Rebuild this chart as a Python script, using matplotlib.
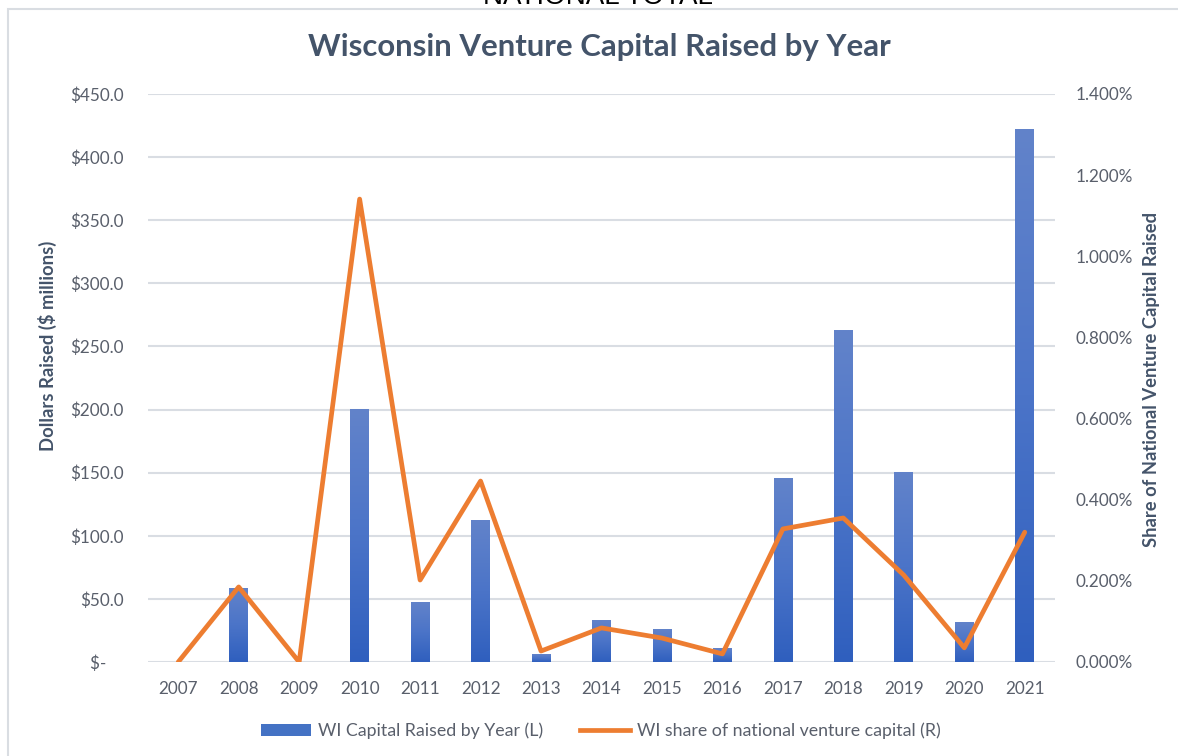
import matplotlib
matplotlib.use("Agg")
import matplotlib.pyplot as plt
import numpy as np
from matplotlib.patches import Rectangle
from matplotlib.lines import Line2D
from matplotlib.ticker import FuncFormatter, MultipleLocator
from matplotlib.colors import LinearSegmentedColormap

years = ["2007", "2008", "2009", "2010", "2011", "2012", "2013", "2014",
         "2015", "2016", "2017", "2018", "2019", "2020", "2021"]
capital_raised = [0, 58, 0, 200, 47.5, 112.5, 6.3, 32.5, 25.4, 11, 145, 263, 150, 31, 422]
share_pct = [0.0, 0.185, 0.0, 1.141, 0.202, 0.446, 0.027, 0.084, 0.059, 0.020,
             0.328, 0.355, 0.214, 0.035, 0.320]

title = "Wisconsin Venture Capital Raised by Year"
left_label = "Dollars Raised ($ millions)"
right_label = "Share of National Venture Capital Raised"
bar_legend = "WI Capital Raised by Year (L)"
line_legend = "WI share of national venture capital (R)"

plt.rcParams['font.family'] = ['Lato', 'DejaVu Sans']

W, H = 1178, 756
fig = plt.figure(figsize=(W / 100, H / 100), dpi=100)

def fx(px):
    return px / W

def fy(py):
    return 1 - py / H

# chart border
fig.patches.append(Rectangle((fx(8), fy(1000)), fx(1200), fy(8.5) - fy(1000),
                             transform=fig.transFigure, fill=False,
                             edgecolor='#D9DDE2', linewidth=1.5))
fig.text(fx(598), fy(4), "NATIONAL TOTAL", ha='center', va='baseline',
         fontsize=20, color='#000000', family=['Liberation Sans'])

ax_l, ax_r, ax_t, ax_b = 148, 1055, 94, 662
ax1 = fig.add_axes([fx(ax_l), fy(ax_b), fx(ax_r - ax_l), fy(ax_t) - fy(ax_b)])
ax2 = ax1.twinx()

x = np.arange(len(years))
bw = 0.31
bars = ax1.bar(x, capital_raised, width=bw, color='#4472C4', zorder=2)
grad = np.linspace(0, 1, 256).reshape(-1, 1)
cmap = LinearSegmentedColormap.from_list('g', ['#2F5FBE', '#4B74C8', '#6283CA'])
for b in bars:
    h = b.get_height()
    if h <= 0:
        continue
    x0 = b.get_x()
    ax1.imshow(grad, extent=(x0, x0 + b.get_width(), 0, h), origin='lower',
               aspect='auto', cmap=cmap, zorder=3)
    b.set_alpha(0)

ax1.set_xlim(-0.5, len(years) - 0.5)
ax1.set_ylim(0, 450)
ax1.yaxis.set_major_locator(MultipleLocator(50))
ax1.yaxis.set_major_formatter(FuncFormatter(lambda v, p: "$-    " if abs(v) < 1e-9 else f"${v:.1f}"))
ax1.grid(axis='y', color='#D9DDE3', linewidth=1.5, zorder=0)
ax1.set_axisbelow(True)
ax1.set_xticks(x)
ax1.set_xticklabels(years)

ax2.plot(x, share_pct, color='#ED7D31', linewidth=3.4, solid_joinstyle='round',
         solid_capstyle='round', zorder=5)
ax2.set_ylim(0, 1.4)
ax2.yaxis.set_major_locator(MultipleLocator(0.2))
ax2.yaxis.set_major_formatter(FuncFormatter(lambda v, p: f"{v:.3f}%"))

tick_color = '#595F6B'
for a in (ax1, ax2):
    for s in a.spines.values():
        s.set_visible(False)
    a.tick_params(length=0, colors=tick_color, labelsize=12.3)
ax1.tick_params(axis='y', pad=17.5)
ax1.tick_params(axis='x', pad=14)
ax2.tick_params(axis='y', pad=14.5)

lbl_color = '#44546A'
fig.text(fx(47), fy(346), left_label, rotation=90, ha='center', va='center',
         fontsize=13.3, fontweight='bold', color=lbl_color)
fig.text(fx(1152), fy(379), right_label, rotation=90, ha='center', va='center',
         fontsize=13.2, fontweight='bold', color=lbl_color)
fig.text(fx(599), fy(47), title, ha='center', va='center', fontsize=22.4,
         fontweight='bold', color=lbl_color)

handles = [Rectangle((0, 0), 1, 1, facecolor='#4472C4'),
           Line2D([0], [0], color='#ED7D31', linewidth=3.4)]
fig.legend(handles, [bar_legend, line_legend], loc='center',
           bbox_to_anchor=(fx(601), fy(731)), ncol=2, frameon=False,
           fontsize=12.8, labelcolor=tick_color, handlelength=2.8,
           columnspacing=2.1, handletextpad=0.4)

fig.savefig("out.png", dpi=100)
